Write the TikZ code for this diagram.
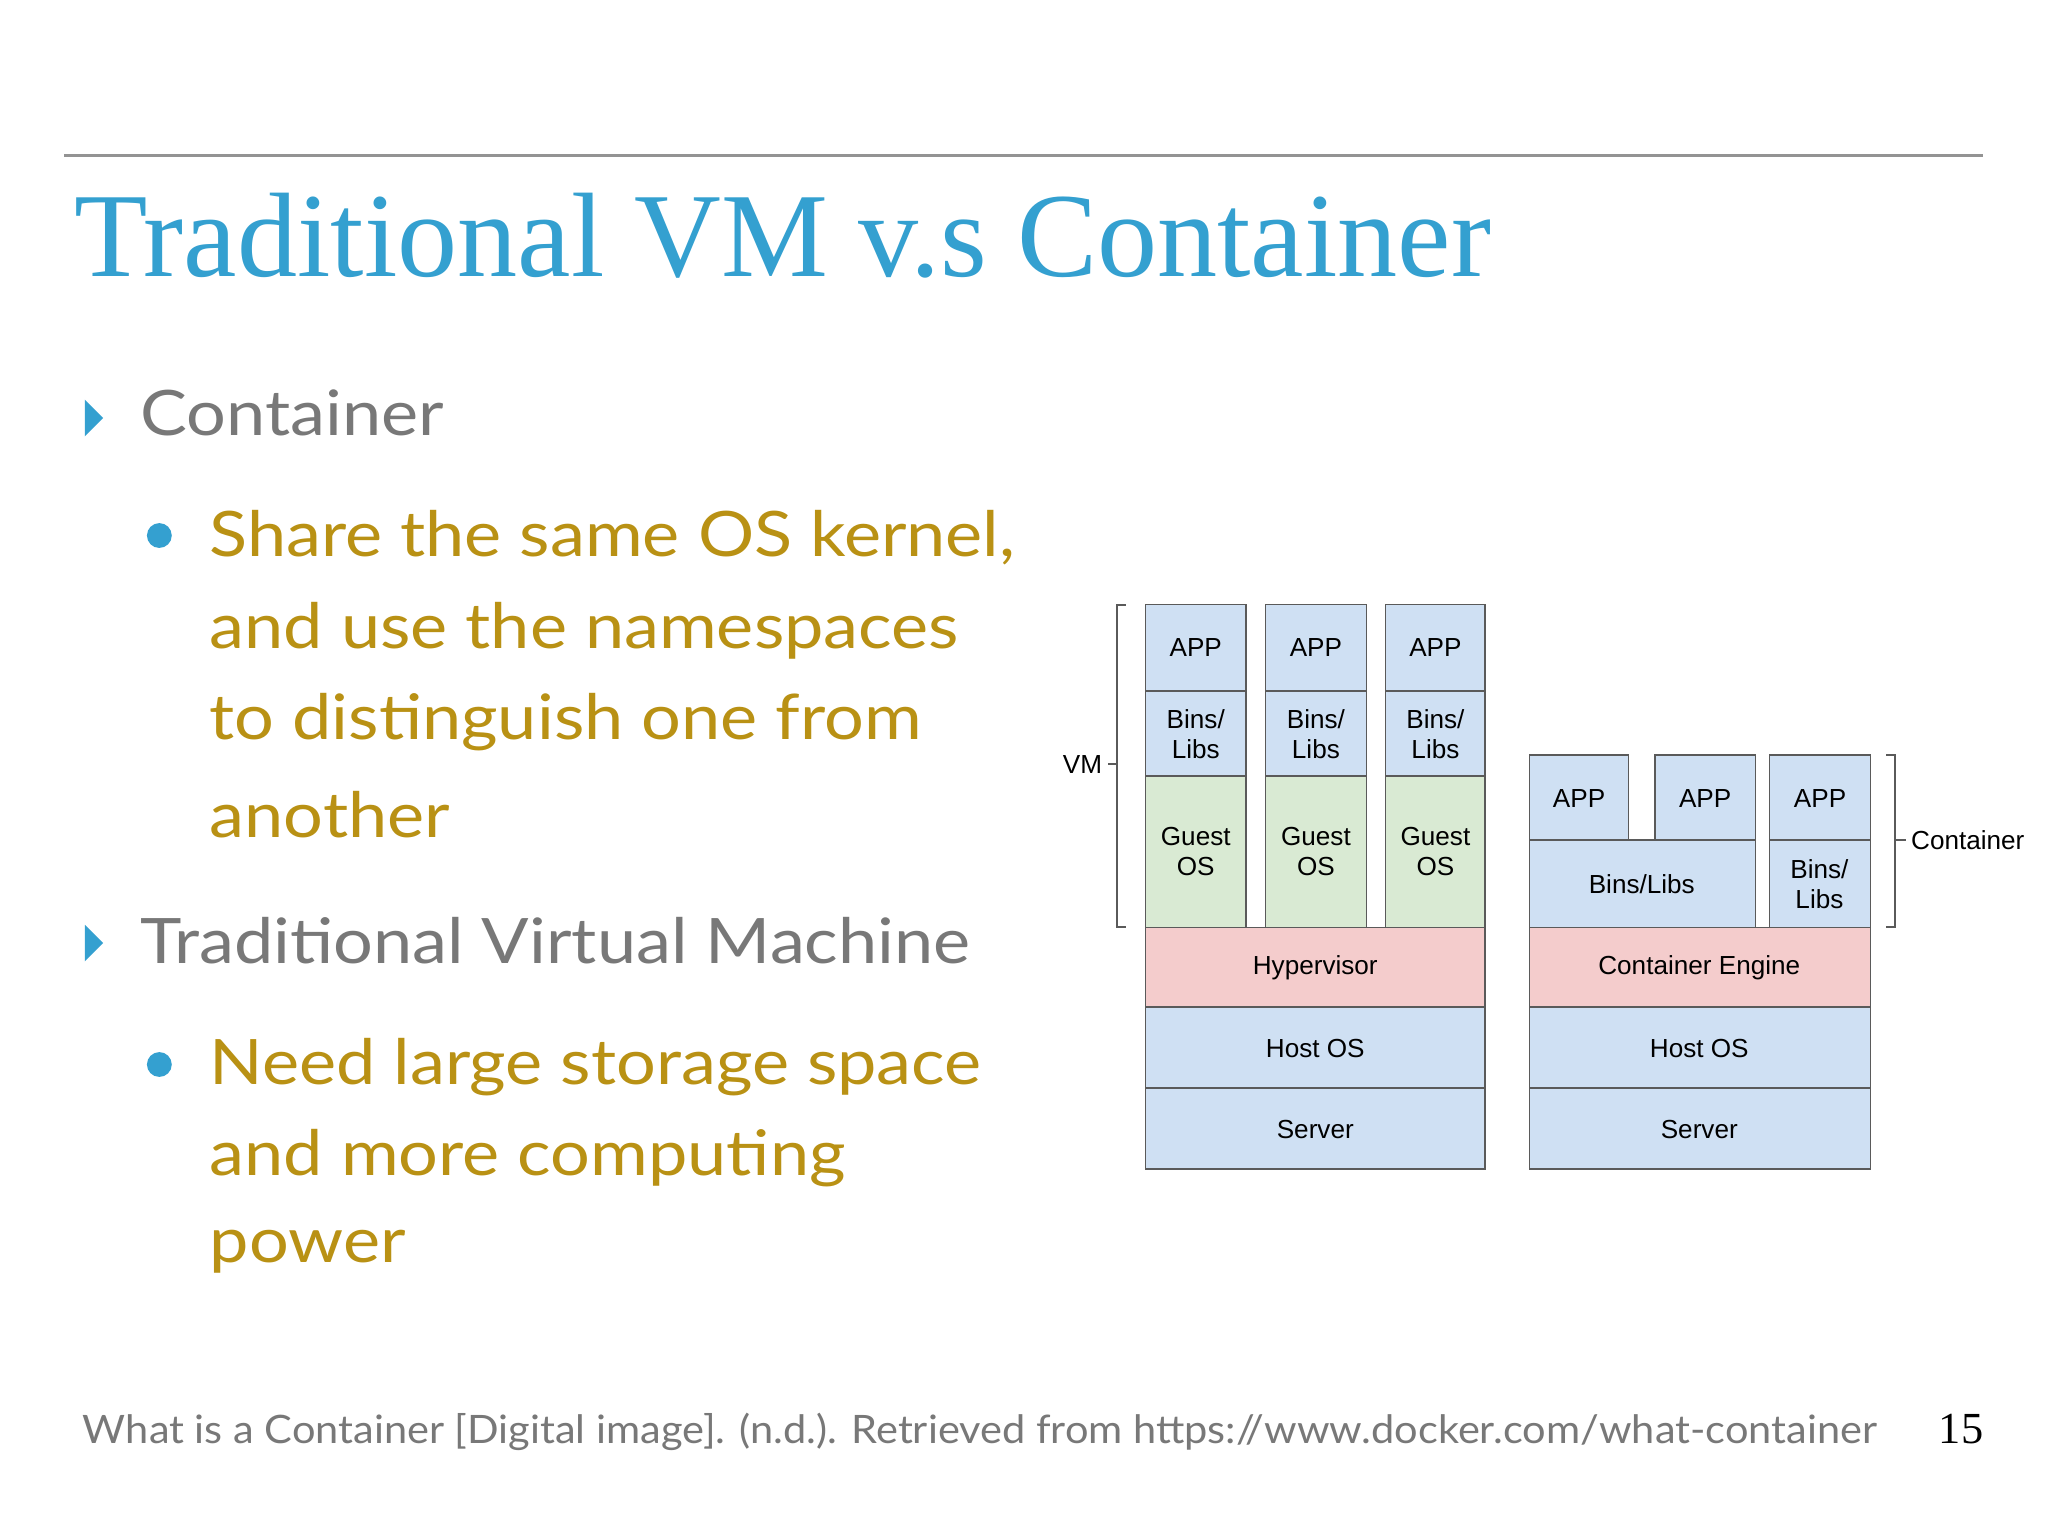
\documentclass[tikz,border=0pt]{standalone}
\usepackage{fontspec}
\setmainfont{Liberation Serif}
\newfontfamily\lato[FakeStretch=1.12]{Lato}
\newfontfamily\latof[FakeStretch=1.06]{Lato}
\newfontfamily\arial{Liberation Sans}
\definecolor{ttl}{RGB}{52,160,208}
\definecolor{gry}{RGB}{120,120,120}
\definecolor{ylw}{RGB}{185,145,20}
\definecolor{bfill}{RGB}{207,224,243}
\definecolor{gfill}{RGB}{217,234,211}
\definecolor{pfill}{RGB}{244,204,204}
\definecolor{bord}{RGB}{90,90,90}
\tikzset{
 bx/.style={draw=bord,line width=1pt,fill=bfill,font=\arial\fontsize{20}{23}\selectfont,align=center},
 gx/.style={bx,fill=gfill},
 px/.style={bx,fill=pfill},
 lvl1/.style={anchor=west,text=gry,font=\lato\fontsize{48}{56}\selectfont},
 lvl2/.style={anchor=west,text=ylw,font=\lato\fontsize{48}{56}\selectfont},
 tri/.style={fill=ttl,draw=none},
 dot/.style={circle,fill=ttl,inner sep=0pt,minimum size=19pt},
}
\newcommand{\rb}[4]{(#1,#2) rectangle (#3,#4)}
\begin{document}
\begin{tikzpicture}[x=1pt,y=-1pt]
\useasboundingbox (0,0) rectangle (1568,1176);
\fill[white] (0,0) rectangle (1568,1176);
\draw[gry!80,line width=2.5pt] (49,119) -- (1518,119);
\node[anchor=base west,text=ttl,font=\fontsize{92}{100}\selectfont,inner sep=0] (title) at (57,212) {Traditional VM v.s Container};
% bullets
\fill[tri] (65,306) -- (79,320) -- (65,334) -- cycle;
\node[lvl1] (c1) at (104,316) {Container};
\node[dot] (d1) at (122,410) {};
\node[lvl2] (l1) at (157,412) {Share the same OS kernel,};
\node[lvl2] (l2) at (157,483) {and use the namespaces};
\node[lvl2] (l3) at (157,553) {to distinguish one from};
\node[lvl2] (l4) at (157,624) {another};
\fill[tri] (65,708) -- (79,722) -- (65,736) -- cycle;
\node[lvl1] (c2) at (104,720) {Traditional Virtual Machine};
\node[dot] (d2) at (122,815) {};
\node[lvl2] (m1) at (157,817) {Need large storage space};
\node[lvl2] (m2) at (157,887) {and more computing};
\node[lvl2] (m3) at (157,958) {power};
% footer
\node[anchor=west,text=gry,font=\latof\fontsize{30}{34}\selectfont] (ft) at (60,1096) {What is a Container [Digital image]. (n.d.). Retrieved from https://www.docker.com/what-container};
\node[anchor=east,font=\fontsize{34}{38}\selectfont] (pg) at (1522,1094) {15};
% VM stack
\foreach \xa/\xb [count=\i] in {877/954,969/1046,1061/1137}{
 \draw[bx] \rb{\xa}{463}{\xb}{529};
 \node[font=\arial\fontsize{20}{23}\selectfont] (app\i) at ({(\xa+\xb)/2},496) {APP};
 \draw[bx] \rb{\xa}{529}{\xb}{594};
 \node[font=\arial\fontsize{20}{23}\selectfont,align=center] (bl\i) at ({(\xa+\xb)/2},562) {Bins/\\Libs};
 \draw[gx] \rb{\xa}{594}{\xb}{710};
 \node[font=\arial\fontsize{20}{23}\selectfont,align=center] (go\i) at ({(\xa+\xb)/2},652) {Guest\\OS};
}
\draw[px] \rb{877}{710}{1137}{771}; \node[font=\arial\fontsize{20}{23}\selectfont] (hv) at (1007,741) {Hypervisor};
\draw[bx] \rb{877}{771}{1137}{833}; \node[font=\arial\fontsize{20}{23}\selectfont] (ho1) at (1007,803) {Host OS};
\draw[bx] \rb{877}{833}{1137}{895}; \node[font=\arial\fontsize{20}{23}\selectfont] (sv1) at (1007,865) {Server};
% Container stack
\foreach \xa/\xb [count=\i] in {1171/1247,1267/1344,1355/1432}{
 \draw[bx] \rb{\xa}{578}{\xb}{643};
 \node[font=\arial\fontsize{20}{23}\selectfont] (capp\i) at ({(\xa+\xb)/2},611) {APP};
}
\draw[bx] \rb{1171}{643}{1344}{710}; \node[font=\arial\fontsize{20}{23}\selectfont] (cbl) at (1257,677) {Bins/Libs};
\draw[bx] \rb{1355}{643}{1432}{710}; \node[font=\arial\fontsize{20}{23}\selectfont,align=center] (cbl2) at (1393,677) {Bins/\\Libs};
\draw[px] \rb{1171}{710}{1432}{771}; \node[font=\arial\fontsize{20}{23}\selectfont] (ce) at (1301,741) {Container Engine};
\draw[bx] \rb{1171}{771}{1432}{833}; \node[font=\arial\fontsize{20}{23}\selectfont] (ho2) at (1301,803) {Host OS};
\draw[bx] \rb{1171}{833}{1432}{895}; \node[font=\arial\fontsize{20}{23}\selectfont] (sv2) at (1301,865) {Server};
% brackets
\draw[line width=1.5pt,bord] (862,463) -- (855,463) -- (855,710) -- (862,710);
\draw[line width=1.5pt,bord] (855,585) -- (848,585);
\node[anchor=east,font=\arial\fontsize{20}{23}\selectfont,inner sep=2pt] (vml) at (846,585) {VM};
\draw[line width=1.5pt,bord] (1444,578) -- (1451,578) -- (1451,710) -- (1444,710);
\draw[line width=1.5pt,bord] (1451,643) -- (1459,643);
\node[anchor=west,font=\arial\fontsize{20}{23}\selectfont,inner sep=2pt] (cl) at (1461,643) {Container};
\end{tikzpicture}
\end{document}
